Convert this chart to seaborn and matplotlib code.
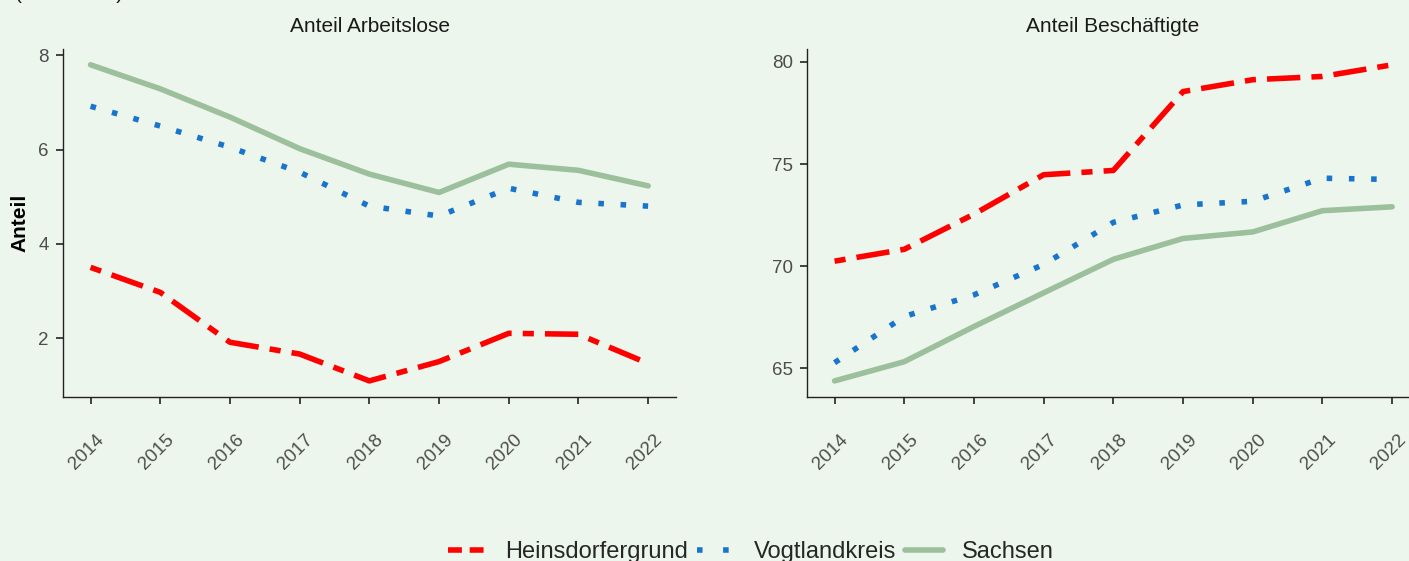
import numpy as np
import pandas as pd
import matplotlib
matplotlib.use("Agg")
import matplotlib.pyplot as plt
import matplotlib.transforms as mtransforms
from matplotlib.lines import Line2D
import seaborn as sns

# Daten
jahre = [2014, 2015, 2016, 2017, 2018, 2019, 2020, 2021, 2022]
regionen = ["Heinsdorfergrund", "Vogtlandkreis", "Sachsen"]

heins_arbeitslose = [3.50, 2.97, 1.91, 1.66, 1.09, 1.50, 2.10, 2.08, 1.46]
vogt_arbeitslose = [6.92, 6.50, 6.05, 5.52, 4.80, 4.59, 5.18, 4.88, 4.80]
sachsen_arbeitslose = [7.80, 7.29, 6.69, 6.02, 5.48, 5.09, 5.69, 5.56, 5.23]

heins_beschaeftigte = [70.25, 70.83, 72.55, 74.48, 74.69, 78.55, 79.13, 79.29, 79.86]
vogt_beschaeftigte = [65.28, 67.54, 68.60, 70.09, 72.15, 73.00, 73.18, 74.31, 74.25]
sachsen_beschaeftigte = [64.39, 65.33, 67.05, 68.70, 70.34, 71.36, 71.68, 72.72, 72.91]

panel_titel = ["Anteil Arbeitslose", "Anteil Beschäftigte"]
yticks_links = [2, 4, 6, 8]
yticks_rechts = [65, 70, 75, 80]

farben = {"Heinsdorfergrund": "#FF0000", "Vogtlandkreis": "#1874CD", "Sachsen": "#9CBF9C"}
striche = {"Heinsdorfergrund": (2, 2, 6, 2), "Vogtlandkreis": (1, 3), "Sachsen": ""}


def long_df(h, v, s):
    return pd.DataFrame({
        "Jahr": jahre * 3,
        "Anteil": h + v + s,
        "Region": [r for r in regionen for _ in jahre],
    })


df_al = long_df(heins_arbeitslose, vogt_arbeitslose, sachsen_arbeitslose)
df_b = long_df(heins_beschaeftigte, vogt_beschaeftigte, sachsen_beschaeftigte)

bg = "#EDF6EC"
sns.set_theme(style="ticks")
plt.rcParams["font.family"] = ["Liberation Sans", "DejaVu Sans"]

W, H = 1409, 561
fig = plt.figure(figsize=(W / 100, H / 100), dpi=100, facecolor=bg)


def px_axes(x0, x1, y0, y1):
    return fig.add_axes([x0 / W, 1 - y1 / H, (x1 - x0) / W, (y1 - y0) / H])


ax1 = px_axes(62.7, 676, 49, 396.7)
ax2 = px_axes(806.7, 1420, 49, 396.7)

for ax, df, yt, titel, cx in [(ax1, df_al, yticks_links, panel_titel[0], 369.5),
                              (ax2, df_b, yticks_rechts, panel_titel[1], 1113)]:
    ax.set_facecolor(bg)
    sns.lineplot(data=df, x="Jahr", y="Anteil", hue="Region", style="Region",
                 hue_order=regionen, style_order=regionen, palette=farben,
                 dashes=striche, linewidth=4, legend=False, ax=ax)
    ax.margins(x=0.05, y=0.05)
    ax.set_xticks(jahre)
    ax.set_yticks(yt)
    ax.set_xlabel("")
    ax.set_ylabel("")
    for side in ["top", "right"]:
        ax.spines[side].set_visible(False)
    for side in ["left", "bottom"]:
        ax.spines[side].set_color("#222222")
        ax.spines[side].set_linewidth(1.0)
    ax.tick_params(axis="both", length=5, width=1.3, color="#333333",
                   labelcolor="#4D4D4D", labelsize=13.5)
    ax.tick_params(axis="y", pad=5)
    ax.tick_params(axis="x", pad=20)
    offset = mtransforms.ScaledTranslation(5 / 100, 0, fig.dpi_scale_trans)
    for lab in ax.get_xticklabels():
        lab.set_rotation(45)
        lab.set_ha("right")
        lab.set_va("top")
        lab.set_rotation_mode("anchor")
        lab.set_transform(lab.get_transform() + offset)
    fig.text(cx / W, 1 - 32 / H, titel, ha="center", va="baseline",
             fontsize=15, color="#1A1A1A")

ax1.set_ylabel("Anteil", fontsize=15, fontweight="bold", color="black", va="center")
ax1.yaxis.set_label_coords(-(62.7 - 20) / (676 - 62.7), 0.5)

# Untertitel oben links, im Original am Rand abgeschnitten
fig.text(15 / W, 1 + 1 / H, "(in Prozent)", ha="left", va="baseline",
         fontsize=15, color="#1A1A1A")

handles = [
    Line2D([], [], color=farben["Heinsdorfergrund"], lw=4, dashes=(2.5, 1.4)),
    Line2D([], [], color=farben["Vogtlandkreis"], lw=4, dashes=(1, 3.7)),
    Line2D([], [], color=farben["Sachsen"], lw=4),
]
fig.legend(handles, regionen, loc="center", ncol=3, frameon=False,
           bbox_to_anchor=(751 / W, 1 - 552 / H), fontsize=17,
           handlelength=1.6, handletextpad=0.8, columnspacing=0.4)

fig.savefig("out.png", dpi=100, facecolor=bg)
